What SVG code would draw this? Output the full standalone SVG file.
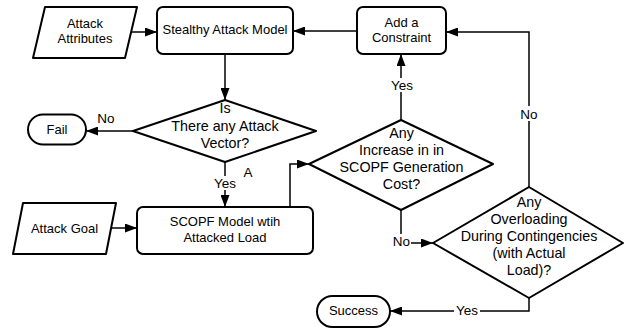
<svg xmlns="http://www.w3.org/2000/svg" width="631" height="329" viewBox="0 0 631 329">
<style>
.shape{fill:#fff;stroke:#000;stroke-width:2;stroke-linejoin:round}
.edge{fill:none;stroke:#000;stroke-width:1.5}
text{font-family:"Liberation Sans",Arial,sans-serif;fill:#000;text-anchor:middle}
.t{font-size:13px}
.d{font-size:14.3px}
.l{font-size:13.5px}
.bg{fill:#fff}
</style>
<defs>
<marker id="ah" markerUnits="userSpaceOnUse" markerWidth="12" markerHeight="9" refX="12" refY="4.5" orient="auto">
<path d="M0,0 L12,4.5 L0,9 z" fill="#000"/>
</marker>
</defs>
<g id="connectors">
<path class="edge" d="M131,32 H157" marker-end="url(#ah)"/>
<path class="edge" d="M111,228 H137" marker-end="url(#ah)"/>
<path class="edge" d="M357,31 H293" marker-end="url(#ah)"/>
<path class="edge" d="M225,54 V100" marker-end="url(#ah)"/>
<path class="edge" d="M133,131 H86" marker-end="url(#ah)"/>
<path class="edge" d="M225,162 V207" marker-end="url(#ah)"/>
<path class="edge" d="M290,207 V164 H309" marker-end="url(#ah)"/>
<path class="edge" d="M401,120 V54" marker-end="url(#ah)"/>
<path class="edge" d="M401,210 V243 H433" marker-end="url(#ah)"/>
<path class="edge" d="M529,187 V32 H446" marker-end="url(#ah)"/>
<path class="edge" d="M529,298 V311 H390" marker-end="url(#ah)"/>
<text class="l" x="106" y="123">No</text>
<rect class="bg" x="212" y="176" width="26" height="14"/>
<text class="l" x="225" y="188">Yes</text>
<text class="l" x="248" y="177">A</text>
<rect class="bg" x="389" y="78" width="26" height="14"/>
<text class="l" x="402" y="90">Yes</text>
<rect class="bg" x="392" y="234" width="19" height="15"/>
<text class="l" x="401.5" y="246">No</text>
<rect class="bg" x="519" y="106" width="20" height="15"/>
<text class="l" x="529" y="119">No</text>
<rect class="bg" x="454" y="304" width="26" height="14"/>
<text class="l" x="467" y="315">Yes</text>
</g>
<g id="attack-attributes">
<polygon class="shape" points="45,7 137,7 125,58 33,58"/>
<text class="t" x="85" y="28">Attack</text>
<text class="t" x="85" y="43">Attributes</text>
</g>
<g id="stealthy-attack-model">
<rect class="shape" x="157" y="7" width="136" height="47" rx="6"/>
<text class="t" x="225" y="34">Stealthy Attack Model</text>
</g>
<g id="add-constraint">
<rect class="shape" x="357" y="7" width="89" height="47" rx="6"/>
<text class="t" x="401.5" y="27">Add a</text>
<text class="t" x="401.5" y="42">Constraint</text>
</g>
<g id="attack-vector">
<polygon class="shape" points="225,100 316,131 225,162 133,131"/>
<text class="d" x="225" y="113">Is</text>
<text class="d" x="225" y="130.5">There any Attack</text>
<text class="d" x="225" y="148">Vector?</text>
</g>
<g id="fail">
<rect class="shape" x="28" y="114.5" width="58" height="30" rx="15"/>
<text class="t" x="57" y="134">Fail</text>
</g>
<g id="attack-goal">
<polygon class="shape" points="23,203 116,203 106,254 13,254"/>
<text class="t" x="64.5" y="232.5">Attack Goal</text>
</g>
<g id="scopf-model">
<rect class="shape" x="137" y="207" width="176" height="47" rx="6"/>
<text class="t" x="225" y="226">SCOPF Model wtih</text>
<text class="t" x="225" y="242">Attacked Load</text>
</g>
<g id="cost-increase">
<polygon class="shape" points="401,120 493,164 401,210 309,164"/>
<text class="d" x="401.5" y="137.5">Any</text>
<text class="d" x="401.5" y="155">Increase in in</text>
<text class="d" x="401.5" y="172">SCOPF Generation</text>
<text class="d" x="401.5" y="189">Cost?</text>
</g>
<g id="overloading">
<polygon class="shape" points="529,187 623,243 529,298 433,243"/>
<text class="d" x="529" y="207">Any</text>
<text class="d" x="529" y="224">Overloading</text>
<text class="d" x="529" y="241">During Contingencies</text>
<text class="d" x="529" y="258">(with Actual</text>
<text class="d" x="529" y="275">Load)?</text>
</g>
<g id="success">
<rect class="shape" x="317" y="296" width="73" height="31" rx="15.5"/>
<text class="t" x="353.5" y="315">Success</text>
</g>
</svg>
